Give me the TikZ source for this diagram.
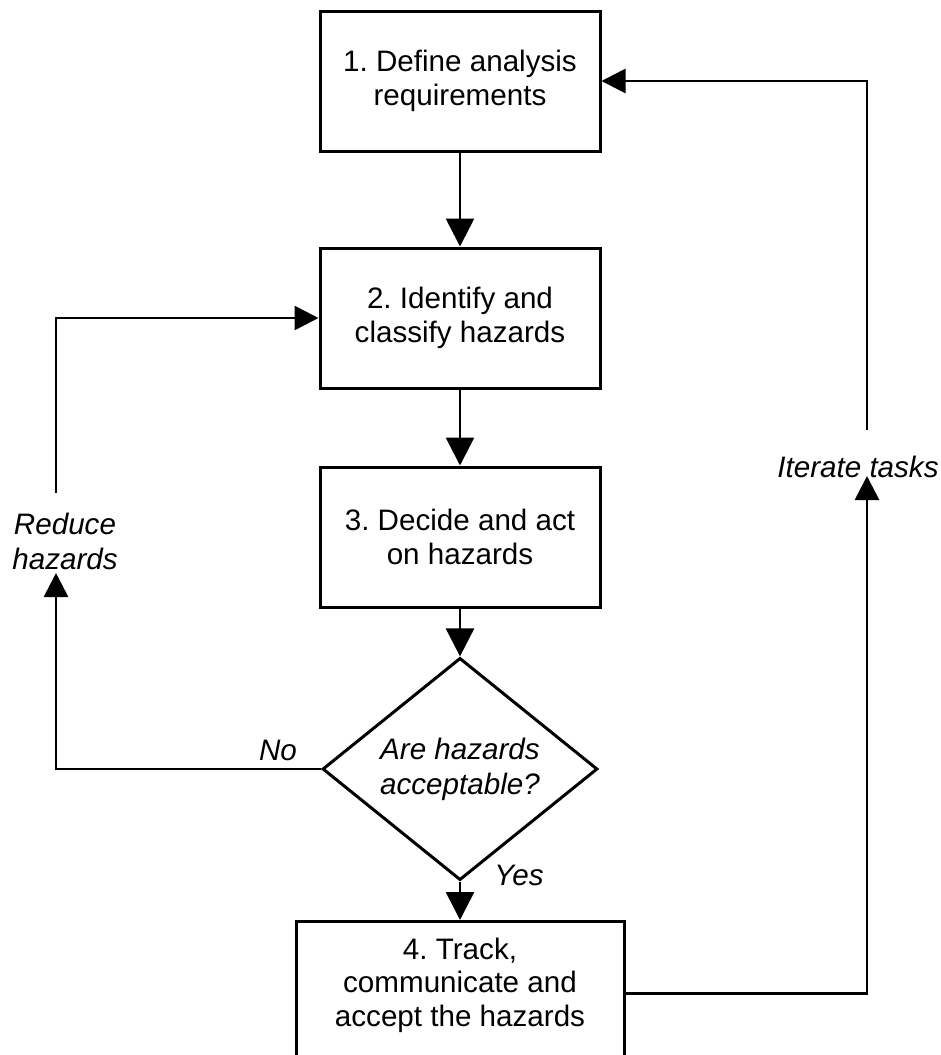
\documentclass[tikz,border=0pt]{standalone}
\usepackage{fontspec}
\setmainfont{Liberation Sans}
\frenchspacing
\usetikzlibrary{arrows.meta,shapes.geometric}
\begin{document}
\begin{tikzpicture}[x=1pt,y=-1pt,
  every node/.style={font=\fontsize{29.6}{33.5}\selectfont\frenchspacing},
  stepbox/.style={draw, line width=3pt, minimum width=280pt, minimum height=140pt, align=center, inner sep=0pt},
  lbl/.style={font=\fontsize{29.6}{35}\selectfont\itshape, align=center, inner sep=0pt},
  conn/.style={line width=2.8pt},
  downtip/.style={-{Triangle[length=28pt,width=28pt]}},
  sidetip/.style={-{Triangle[length=24pt,width=24pt]}}
]
\clip (0,0) rectangle (941,1055);
\useasboundingbox (0,0) rectangle (941,1055);

\node[stepbox] (b1) at (460,81) {1. Define analysis\\requirements};
\node[stepbox] (b2) at (460,318) {2. Identify and\\classify hazards};
\node[stepbox] (b3) at (460,537) {3. Decide and act\\on hazards};
\node[draw, diamond, line width=3pt, minimum width=275pt, minimum height=181pt, inner sep=0pt, align=center,
      font=\fontsize{29.6}{35}\selectfont\itshape] (d) at (460,769) {Are hazards\\acceptable?};
\node[draw, line width=3pt, minimum width=328pt, minimum height=144pt, anchor=north, inner sep=0pt] (b4) at (460,920) {};
\node[align=center, inner sep=0pt] (b4t) at (460,985) {4. Track,\\communicate and\\accept the hazards};

\node[lbl] (reduce) at (65,541) {Reduce\\hazards};
\node[lbl] (iter) at (858,467) {Iterate tasks};
\node[lbl] (yes) at (519,875) {Yes};
\node[lbl] (no) at (278,750) {No};

\coordinate (rb) at (56,573);
\coordinate (rt) at (56,493);
\coordinate (ib) at (867,476);
\coordinate (it) at (867,430);

\draw[conn, downtip] (b1) -- (b2);
\draw[conn, downtip] (b2) -- (b3);
\draw[conn, downtip] (b3) -- (d);
\draw[conn, downtip] (d) -- (b4);
\draw[conn, sidetip] (d.west) -| (rb);
\draw[conn, sidetip] (rt) |- (b2.west);
\draw[conn, sidetip] (b4.east) -| (ib);
\draw[conn, sidetip] (it) |- (b1.east);
\end{tikzpicture}
\end{document}
